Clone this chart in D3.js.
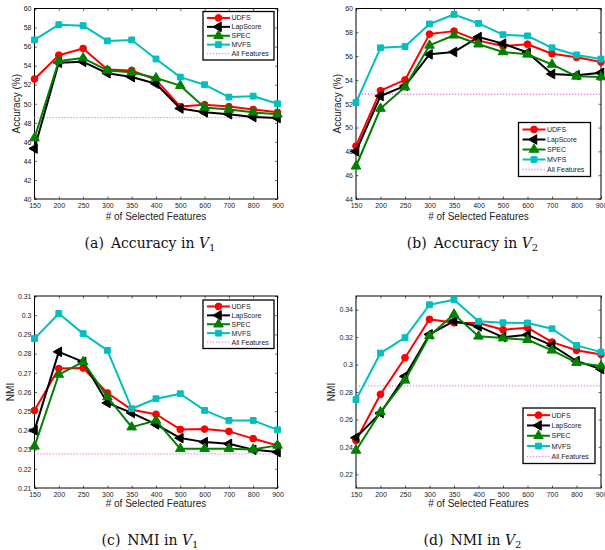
<!DOCTYPE html>
<html>
<head>
<meta charset="utf-8">
<script src="https://cdn.jsdelivr.net/npm/d3@7"></script>
<style>
  body { margin: 0; background: #fff; }
  svg { display: block; }
</style>
</head>
<body>
<div id="chart"></div>
<script>
/* four line charts: accuracy and NMI on two views */

const features = ["150", "200", "250", "300", "350", "400", "500", "600", "700", "800", "900"];
const methods = ["UDFS", "LapScore", "SPEC", "MVFS"];
const baselineName = "All Features";

// (a) Accuracy in V1
const accV1Udfs = [52.6, 55.1, 55.8, 53.6, 53.5, 52.5, 49.7, 49.9, 49.7, 49.4, 49.1];
const accV1Lap  = [45.3, 54.3, 54.4, 53.2, 52.8, 52.1, 49.5, 49.1, 48.9, 48.6, 48.5];
const accV1Spec = [46.4, 54.5, 54.8, 53.5, 53.3, 52.7, 51.9, 49.6, 49.4, 49.1, 48.9];
const accV1Mvfs = [56.7, 58.3, 58.2, 56.6, 56.7, 54.7, 52.8, 52.0, 50.7, 50.8, 50.0];
const accV1All = 48.55;

// (b) Accuracy in V2
const accV2Udfs = [48.45, 53.1, 54.0, 57.85, 58.1, 57.3, 56.85, 57.0, 56.2, 55.9, 55.5];
const accV2Lap  = [48.0, 52.65, 53.5, 56.15, 56.35, 57.6, 57.05, 56.3, 54.5, 54.4, 54.6];
const accV2Spec = [46.75, 51.6, 53.4, 56.9, 57.75, 57.0, 56.35, 56.15, 55.3, 54.3, 54.25];
const accV2Mvfs = [52.1, 56.7, 56.8, 58.7, 59.5, 58.75, 57.8, 57.7, 56.7, 56.1, 55.75];
const accV2All = 52.8;

// (c) NMI in V1
const nmiV1Udfs = [0.2504, 0.2722, 0.2725, 0.2595, 0.2508, 0.2484, 0.2405, 0.2407, 0.2395, 0.2357, 0.2322];
const nmiV1Lap  = [0.2400, 0.2809, 0.2757, 0.2543, 0.2491, 0.2431, 0.2360, 0.2339, 0.2330, 0.2299, 0.2287];
const nmiV1Spec = [0.2317, 0.2691, 0.2757, 0.2574, 0.2417, 0.2452, 0.2304, 0.2304, 0.2304, 0.2301, 0.2322];
const nmiV1Mvfs = [0.2878, 0.3009, 0.2904, 0.2817, 0.2513, 0.2565, 0.2591, 0.2504, 0.2452, 0.2452, 0.2403];
const nmiV1All = 0.2278;

// (d) NMI in V2
const nmiV2Udfs = [0.2447, 0.2783, 0.3050, 0.3330, 0.3305, 0.3303, 0.3254, 0.3269, 0.3164, 0.3104, 0.3074];
const nmiV2Lap  = [0.2467, 0.2647, 0.2914, 0.3220, 0.3317, 0.3278, 0.3200, 0.3217, 0.3140, 0.3026, 0.2967];
const nmiV2Spec = [0.2374, 0.2654, 0.2885, 0.3210, 0.3366, 0.3206, 0.3193, 0.3181, 0.3104, 0.3014, 0.2989];
const nmiV2Mvfs = [0.2744, 0.3084, 0.3196, 0.3436, 0.3473, 0.3315, 0.3305, 0.3303, 0.3261, 0.3140, 0.3091];
const nmiV2All = 0.2844;

const accV1Ticks = [40, 42, 44, 46, 48, 50, 52, 54, 56, 58, 60];
const accV2Ticks = [44, 46, 48, 50, 52, 54, 56, 58, 60];
const nmiV1Ticks = [0.21, 0.22, 0.23, 0.24, 0.25, 0.26, 0.27, 0.28, 0.29, 0.3, 0.31];
const nmiV2Ticks = [0.22, 0.24, 0.26, 0.28, 0.3, 0.32, 0.34];

const width = 605, height = 550;

const colors = {UDFS: "#ff0000", LapScore: "#000000", SPEC: "#008000", MVFS: "#00bfbf"};
const baseColor = "#e88be8";

const symbols = {
    UDFS: {type: d3.symbolCircle, size: 36, rot: 0},
    LapScore: {type: d3.symbolTriangle, size: 40, rot: -90},
    SPEC: {type: d3.symbolTriangle, size: 40, rot: 0},
    MVFS: {type: d3.symbolSquare, size: 34, rot: 0}
};

const panels = [
    {series: [accV1Udfs, accV1Lap, accV1Spec, accV1Mvfs], all: accV1All, ticks: accV1Ticks,
     domain: [40, 60], ylabel: "Accuracy (%)", letter: "(a)", title: "Accuracy in ", sub: "1",
     box: {l: 34.5, r: 277.5, t: 8.5, b: 199}, ylabX: 16, xlabY: 220, capY: 248,
     legend: {x: 203, y: 11.5, w: 71, h: 48.5}},
    {series: [accV2Udfs, accV2Lap, accV2Spec, accV2Mvfs], all: accV2All, ticks: accV2Ticks,
     domain: [44, 60], ylabel: "Accuracy (%)", letter: "(b)", title: "Accuracy in ", sub: "2",
     box: {l: 356, r: 601, t: 8.5, b: 199}, ylabX: 337, xlabY: 220, capY: 248,
     legend: {x: 518.5, y: 122.5, w: 72, h: 54}},
    {series: [nmiV1Udfs, nmiV1Lap, nmiV1Spec, nmiV1Mvfs], all: nmiV1All, ticks: nmiV1Ticks,
     domain: [0.21, 0.31], ylabel: "NMI", letter: "(c)", title: "NMI in ", sub: "1",
     box: {l: 34.5, r: 277.5, t: 296, b: 488}, ylabX: 10, xlabY: 507, capY: 545,
     legend: {x: 203, y: 300, w: 71, h: 48.5}},
    {series: [nmiV2Udfs, nmiV2Lap, nmiV2Spec, nmiV2Mvfs], all: nmiV2All, ticks: nmiV2Ticks,
     domain: [0.21, 0.35], ylabel: "NMI", letter: "(d)", title: "NMI in ", sub: "2",
     box: {l: 356, r: 601, t: 296, b: 488}, ylabX: 331, xlabY: 507, capY: 545,
     legend: {x: 523, y: 408, w: 72, h: 55.5}}
];

const svg = d3.select("#chart")
    .append("svg")
    .attr("width", width)
    .attr("height", height)
    .attr("viewBox", [0, 0, width, height]);

const tickFmt = d => String(+d.toFixed(2));

function drawMarker(g, name, cx, cy) {
    const s = symbols[name];
    g.append("path")
        .attr("d", d3.symbol().type(s.type).size(s.size)())
        .attr("transform", `translate(${cx},${cy}) rotate(${s.rot})`)
        .attr("fill", colors[name])
        .attr("stroke", colors[name])
        .attr("stroke-width", 1);
}

for (let p of panels) {
    const b = p.box;
    let g = svg.append("g");

    let x = d3.scalePoint()
        .domain(features)
        .range([b.l, b.r]);

    let y = d3.scaleLinear()
        .domain(p.domain)
        .range([b.b, b.t]);

    // axes, MATLAB style: ticks pointing in, on all four sides
    g.append("g")
        .attr("transform", `translate(0,${b.b})`)
        .call(d3.axisBottom(x).tickSize(-2.5).tickSizeOuter(0).tickPadding(4));
    g.append("g")
        .attr("transform", `translate(0,${b.t})`)
        .call(d3.axisTop(x).tickSize(-2.5).tickSizeOuter(0).tickFormat(""));
    g.append("g")
        .attr("transform", `translate(${b.l},0)`)
        .call(d3.axisLeft(y).tickValues(p.ticks).tickFormat(tickFmt).tickSize(-2.5).tickSizeOuter(0).tickPadding(3));
    g.append("g")
        .attr("transform", `translate(${b.r},0)`)
        .call(d3.axisRight(y).tickValues(p.ticks).tickFormat("").tickSize(-2.5).tickSizeOuter(0));

    g.selectAll(".tick text")
        .attr("font-family", "Liberation Sans, Arial, sans-serif")
        .attr("font-size", 7)
        .attr("fill", "#222");
    g.selectAll(".tick line").attr("stroke", "#000").attr("stroke-width", 0.6);
    g.selectAll(".domain").remove();

    g.append("rect")
        .attr("x", b.l).attr("y", b.t)
        .attr("width", b.r - b.l).attr("height", b.b - b.t)
        .attr("fill", "none")
        .attr("stroke", "#000")
        .attr("stroke-width", 1);

    // baseline
    g.append("line")
        .attr("x1", b.l).attr("x2", b.r)
        .attr("y1", y(p.all)).attr("y2", y(p.all))
        .attr("stroke", baseColor)
        .attr("stroke-width", 1.3)
        .attr("stroke-dasharray", "1.3,1.7");

    const line = d3.line()
        .x((d, i) => x(features[i]))
        .y(d => y(d));

    p.series.forEach((vals, k) => {
        const name = methods[k];
        g.append("path")
            .datum(vals)
            .attr("fill", "none")
            .attr("stroke", colors[name])
            .attr("stroke-width", 2)
            .attr("stroke-linejoin", "round")
            .attr("d", line);
        vals.forEach((v, i) => drawMarker(g, name, x(features[i]), y(v)));
    });

    // labels
    g.append("text")
        .attr("x", (b.l + b.r) / 2)
        .attr("y", p.xlabY)
        .attr("text-anchor", "middle")
        .attr("font-family", "Liberation Sans, Arial, sans-serif")
        .attr("font-size", 10)
        .attr("fill", "#222")
        .text("# of Selected Features");

    g.append("text")
        .attr("transform", `translate(${p.ylabX},${(b.t + b.b) / 2}) rotate(-90)`)
        .attr("text-anchor", "middle")
        .attr("dy", "0.35em")
        .attr("font-family", "Liberation Sans, Arial, sans-serif")
        .attr("font-size", 10)
        .attr("fill", "#222")
        .text(p.ylabel);

    // legend
    const L = p.legend;
    let leg = g.append("g");
    leg.append("rect")
        .attr("x", L.x).attr("y", L.y)
        .attr("width", L.w).attr("height", L.h)
        .attr("fill", "#fff")
        .attr("stroke", "#000")
        .attr("stroke-width", 1.3);
    const rowH = (L.h - 4) / 5;
    const names = methods.concat([baselineName]);
    names.forEach((name, i) => {
        const cy = L.y + 2 + rowH * (i + 0.5);
        const x0 = L.x + 4, x1 = L.x + 27;
        if (name === baselineName) {
            leg.append("line")
                .attr("x1", x0).attr("x2", x1).attr("y1", cy).attr("y2", cy)
                .attr("stroke", baseColor).attr("stroke-width", 1.3)
                .attr("stroke-dasharray", "1.3,1.7");
        } else {
            leg.append("line")
                .attr("x1", x0).attr("x2", x1).attr("y1", cy).attr("y2", cy)
                .attr("stroke", colors[name]).attr("stroke-width", 2);
            drawMarker(leg, name, (x0 + x1) / 2, cy);
        }
        leg.append("text")
            .attr("x", x1 + 1.5)
            .attr("y", cy)
            .attr("dy", "0.35em")
            .attr("font-family", "Liberation Sans, Arial, sans-serif")
            .attr("font-size", 7)
            .attr("fill", "#222")
            .text(name);
    });

    // caption
    let cap = g.append("text")
        .attr("x", (b.l + b.r) / 2 - 6)
        .attr("y", p.capY)
        .attr("text-anchor", "middle")
        .attr("font-family", "DejaVu Serif, serif")
        .attr("font-size", 14)
        .attr("fill", "#111");
    cap.append("tspan").text(p.letter + "\u2002" + p.title);
    cap.append("tspan").attr("font-style", "italic").text("V");
    cap.append("tspan").attr("font-size", 10).attr("dy", 3).text(p.sub);
}
</script>
</body>
</html>
